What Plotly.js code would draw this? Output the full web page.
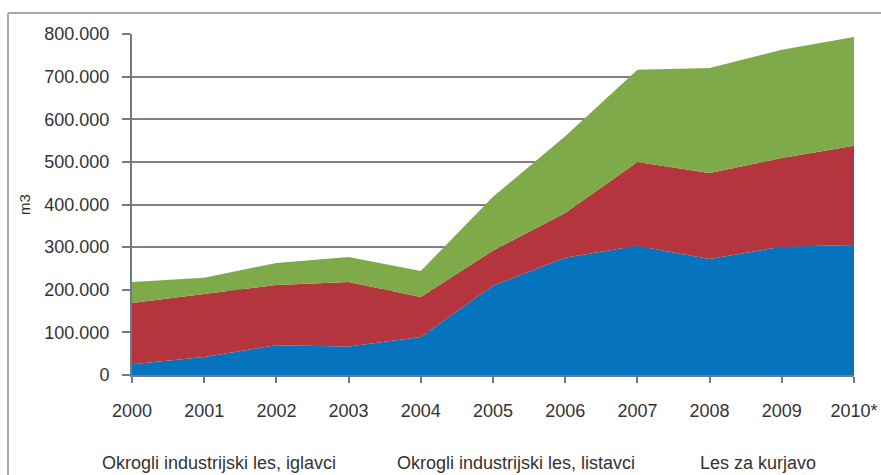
<!DOCTYPE html>
<html>
<head>
<meta charset="utf-8">
<script src="https://cdn.plot.ly/plotly-3.0.1.min.js"></script>
<style>
html,body{margin:0;padding:0;background:#fff;}
#chart{width:881px;height:475px;}
</style>
</head>
<body>
<div id="chart"></div>
<script>
const years = ["2000","2001","2002","2003","2004","2005","2006","2007","2008","2009","2010*"];
const seriesNames = ["Okrogli industrijski les, iglavci","Okrogli industrijski les, listavci","Les za kurjavo"];
const iglavci  = [25000, 42000, 70000, 67000, 89000, 210000, 275000, 303000, 272000, 301000, 305000];
const listavci = [144000, 148000, 141000, 151000, 94000, 82000, 105000, 197000, 202000, 208000, 233000];
const kurjava  = [49000, 38000, 52000, 59000, 61000, 126000, 180000, 216000, 246000, 254000, 255000];
const colors = ["#0673BF", "#B5353F", "#7EAA4A"];

const seriesValues = [iglavci, listavci, kurjava];
const traces = seriesValues.map((vals, i) => ({
  type: "scatter",
  mode: "lines",
  x: years,
  y: vals,
  name: seriesNames[i],
  stackgroup: "one",
  line: {width: 0, color: colors[i]},
  fillcolor: colors[i],
  showlegend: false,
  hoverinfo: "skip"
}));

const L = 132, R = 27, T = 34, B = 100, W = 881, H = 475;
const pw = W - L - R, ph = H - T - B;
const px = v => (v - L) / pw;
const py = v => (H - B - v) / ph;

const legendX = [100, 395, 698];
const annotations = seriesNames.map((n, i) => ({
  text: n, xref: "paper", yref: "paper",
  x: px(legendX[i]), y: py(463),
  xanchor: "left", yanchor: "middle", showarrow: false,
  font: {family: "Liberation Sans, Arial, sans-serif", size: 18, color: "#333"}
}));

const layout = {
  width: W, height: H,
  margin: {l: L, r: R, t: T, b: B, pad: 0},
  paper_bgcolor: "#fff", plot_bgcolor: "#fff",
  separators: ",.",
  showlegend: false,
  font: {family: "Liberation Sans, Arial, sans-serif", size: 18, color: "#333"},
  xaxis: {
    type: "category",
    range: [0, 10],
    showgrid: false,
    zeroline: false,
    showline: true, linecolor: "#6d7b88", linewidth: 2,
    ticks: "outside", ticklen: 6, tickwidth: 2, tickcolor: "#6d7b88",
    ticklabelstandoff: 12,
    tickfont: {size: 18, color: "#333"},
    fixedrange: true
  },
  yaxis: {
    range: [0, 800000],
    dtick: 100000,
    tickformat: ",d",
    showgrid: true, gridcolor: "#7f8186", gridwidth: 2,
    zeroline: false,
    showline: true, linecolor: "#6d7b88", linewidth: 2,
    ticks: "outside", ticklen: 8, tickwidth: 2, tickcolor: "#6d7b88",
    ticklabelstandoff: 9,
    tickfont: {size: 18, color: "#333"},
    title: {text: "m3", font: {size: 15, color: "#333"}, standoff: 10},
    automargin: false,
    fixedrange: true
  },
  annotations: annotations,
  shapes: [
    {type: "line", xref: "paper", yref: "paper", x0: px(8), x1: px(881), y0: py(13), y1: py(13), line: {color: "#555", width: 1}},
    {type: "line", xref: "paper", yref: "paper", x0: px(8), x1: px(8), y0: py(13), y1: py(475), line: {color: "#aaa", width: 2}}
  ]
};

Plotly.newPlot("chart", traces, layout, {displayModeBar: false, staticPlot: true});
</script>
</body>
</html>
